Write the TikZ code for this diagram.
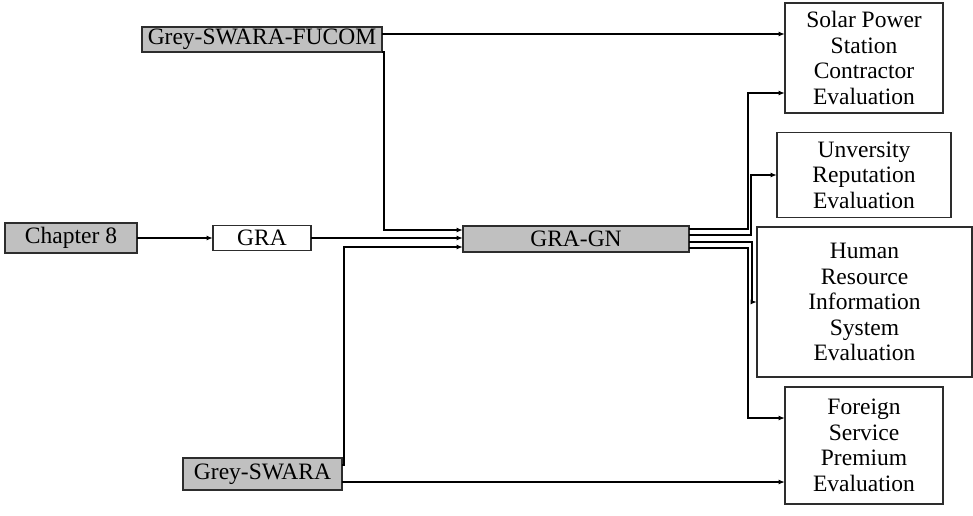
\documentclass[tikz,border=0pt]{standalone}
\usepackage{fontspec}
\setmainfont{Liberation Serif}
\usetikzlibrary{arrows.meta, calc, positioning}
\definecolor{boxgrey}{RGB}{192, 192, 192}
\definecolor{edgegrey}{RGB}{45, 45, 45}

\begin{document}
\begin{tikzpicture}[x=1pt, y=-1pt,
    box/.style={draw=edgegrey, line width=1.3pt, inner sep=0pt, outer sep=0pt,
                align=center, font=\fontsize{23.5}{25.5}\selectfont},
    greybox/.style={box, fill=boxgrey},
    conn/.style={-{Latex[length=6.5pt, width=5pt]}, line width=1.7pt}]
  \useasboundingbox (0,0) rectangle (973,515);
  % method boxes
  \node[greybox, minimum width=240pt, minimum height=25pt] (fucom) at (262,39.5) {Grey-SWARA-FUCOM};
  \node[greybox, minimum width=132pt, minimum height=30pt] (chap) at (71,238) {Chapter 8};
  \node[box, minimum width=98pt, minimum height=25pt] (gra) at (262,238) {GRA};
  \node[greybox, minimum width=226pt, minimum height=26pt] (gragn) at (576,239) {GRA-GN};
  \node[greybox, minimum width=159pt, minimum height=32pt] (swara) at (262.5,474) {Grey-SWARA};
  % applications
  \node[box, minimum width=158pt, minimum height=110pt] (solar) at (864,58)
    {Solar Power\\Station\\Contractor\\Evaluation};
  \node[box, minimum width=174pt, minimum height=85pt] (univ) at (864,175)
    {Unversity\\Reputation\\Evaluation};
  \node[box, minimum width=215pt, minimum height=150pt] (human) at (864.5,302)
    {Human\\Resource\\Information\\System\\Evaluation};
  \node[box, minimum width=158pt, minimum height=117pt] (foreign) at (864,445.5)
    {Foreign\\Service\\Premium\\Evaluation};
  % helper points
  \coordinate (fu1) at ([yshift=5.5pt]fucom.east);
  \coordinate (sw1) at ([yshift=-8pt]swara.east);
  % inputs
  \draw[conn] (chap.east) -- (chap.east -| gra.west);
  \draw[conn] (gra.east) -- (gra.east -| gragn.west);
  \draw[conn] (fucom.south east) -- ++(2,0) |- ([yshift=9pt]gragn.west);
  \draw[conn] ([yshift=9pt]swara.east) -- ++(2,0) |- ([yshift=-8pt]gragn.west);
  \draw[conn] (fu1) -- (fu1 -| solar.west);
  \draw[conn] (sw1) -- (sw1 -| foreign.west);
  % outputs of GRA-GN
  \draw[conn] ([yshift=10pt]gragn.east) -- ++(59,0) |- ([yshift=-35pt]solar.west);
  \draw[conn] ([yshift=4pt]gragn.east) -- ++(62,0) |- (univ.west);
  \draw[conn] ([yshift=-3pt]gragn.east) -- ++(63,0) |- (human.west);
  \draw[conn] ([yshift=-9pt]gragn.east) -- ++(59,0) |- ([yshift=27.5pt]foreign.west);
\end{tikzpicture}
\end{document}
